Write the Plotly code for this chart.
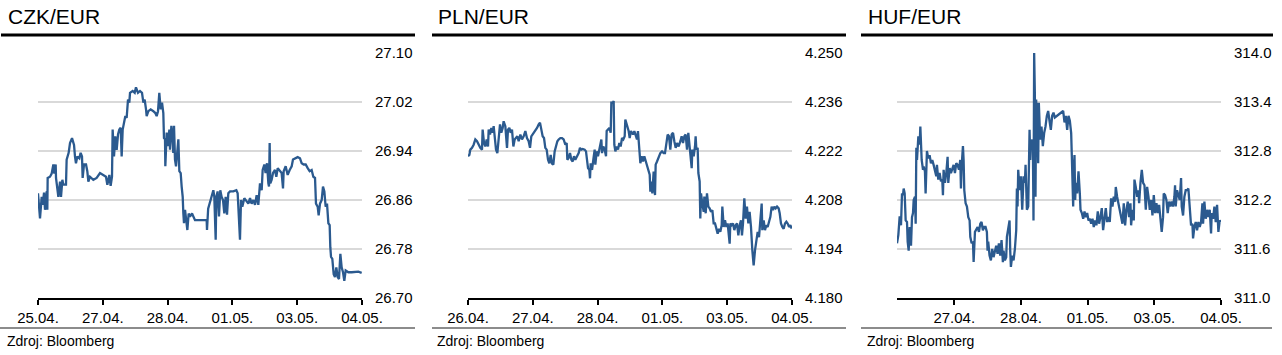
import plotly.graph_objects as go

# ---------------- data ----------------
# x = trading-session position on the date axis (tick labels sit at integers)
czk_x = [0.000, 0.021, 0.031, 0.057, 0.072, 0.093, 0.108, 0.134, 0.144, 0.149, 0.185, 0.211, 0.237, 0.252, 0.273,
         0.278, 0.298, 0.314, 0.340, 0.355, 0.376, 0.391, 0.432, 0.442, 0.473, 0.494, 0.525, 0.556, 0.571, 0.586,
         0.607, 0.638, 0.658, 0.679, 0.689, 0.710, 0.741, 0.761, 0.777, 0.802, 0.854, 0.905, 0.957, 1.008, 1.049,
         1.070, 1.101, 1.121, 1.142, 1.152, 1.173, 1.193, 1.214, 1.235, 1.255, 1.276, 1.291, 1.307, 1.327, 1.348,
         1.368, 1.389, 1.409, 1.420, 1.461, 1.492, 1.512, 1.543, 1.574, 1.605, 1.626, 1.646, 1.667, 1.677, 1.703,
         1.739, 1.780, 1.811, 1.831, 1.852, 1.872, 1.893, 1.914, 1.934, 1.944, 1.960, 1.965, 1.986, 2.006, 2.027,
         2.037, 2.058, 2.078, 2.088, 2.099, 2.114, 2.130, 2.150, 2.166, 2.181, 2.202, 2.217, 2.233, 2.243, 2.253,
         2.269, 2.284, 2.305, 2.325, 2.346, 2.377, 2.423, 2.603, 2.608, 2.626, 2.654, 2.680, 2.706, 2.721, 2.742,
         2.752, 2.772, 2.793, 2.813, 2.834, 2.855, 2.875, 2.896, 2.917, 2.937, 2.963, 3.014, 3.061, 3.081, 3.102,
         3.117, 3.133, 3.153, 3.184, 3.220, 3.246, 3.272, 3.297, 3.323, 3.349, 3.374, 3.400, 3.426, 3.452, 3.467,
         3.493, 3.512, 3.534, 3.555, 3.565, 3.575, 3.585, 3.606, 3.627, 3.657, 3.678, 3.699, 3.735, 3.760, 3.781,
         3.791, 3.822, 3.853, 3.884, 3.915, 3.935, 3.966, 4.007, 4.043, 4.069, 4.100, 4.131, 4.162, 4.192, 4.223,
         4.249, 4.275, 4.290, 4.316, 4.331, 4.352, 4.378, 4.398, 4.419, 4.439, 4.460, 4.481, 4.501, 4.511, 4.522,
         4.542, 4.552, 4.563, 4.583, 4.604, 4.625, 4.645, 4.666, 4.686, 4.707, 4.727, 4.748, 4.789, 4.841, 4.892,
         4.944, 4.995]
czk_y = [26.871, 26.838, 26.830, 26.865, 26.852, 26.872, 26.844, 26.874, 26.844, 26.896, 26.898, 26.903, 26.918,
         26.903, 26.918, 26.896, 26.871, 26.865, 26.890, 26.865, 26.893, 26.885, 26.885, 26.926, 26.937, 26.953,
         26.961, 26.950, 26.931, 26.920, 26.931, 26.928, 26.937, 26.931, 26.896, 26.918, 26.918, 26.907, 26.890,
         26.898, 26.893, 26.896, 26.904, 26.901, 26.898, 26.885, 26.901, 26.883, 26.898, 26.975, 26.931, 26.964,
         26.942, 26.967, 26.975, 26.978, 26.931, 26.975, 26.986, 26.997, 26.994, 27.024, 27.019, 27.035, 27.038,
         27.035, 27.044, 27.035, 27.038, 27.035, 27.019, 27.024, 27.008, 26.997, 27.005, 27.008, 27.005, 27.002,
         26.997, 27.005, 27.035, 27.008, 27.019, 27.002, 26.961, 26.959, 26.915, 26.970, 26.948, 26.975, 26.942,
         26.981, 26.959, 26.937, 26.981, 26.926, 26.915, 26.948, 26.959, 26.907, 26.904, 26.882, 26.865, 26.838,
         26.822, 26.844, 26.833, 26.811, 26.838, 26.833, 26.838, 26.827, 26.827, 26.811, 26.846, 26.857, 26.865,
         26.876, 26.865, 26.795, 26.865, 26.874, 26.833, 26.876, 26.865, 26.860, 26.838, 26.865, 26.836, 26.871,
         26.874, 26.874, 26.876, 26.871, 26.827, 26.795, 26.860, 26.849, 26.863, 26.857, 26.854, 26.863, 26.854,
         26.860, 26.852, 26.868, 26.852, 26.887, 26.876, 26.909, 26.918, 26.904, 26.920, 26.887, 26.882, 26.953,
         26.887, 26.893, 26.904, 26.909, 26.898, 26.912, 26.907, 26.904, 26.879, 26.907, 26.915, 26.901, 26.909,
         26.915, 26.926, 26.928, 26.930, 26.928, 26.920, 26.918, 26.918, 26.912, 26.907, 26.909, 26.898, 26.896,
         26.854, 26.849, 26.835, 26.854, 26.860, 26.882, 26.874, 26.849, 26.854, 26.822, 26.819, 26.783, 26.767,
         26.764, 26.756, 26.739, 26.734, 26.750, 26.734, 26.731, 26.772, 26.750, 26.742, 26.728, 26.745, 26.742,
         26.742, 26.742, 26.743, 26.741]

pln_x = [0.000, 0.021, 0.036, 0.062, 0.087, 0.113, 0.139, 0.165, 0.190, 0.216, 0.226, 0.247, 0.267, 0.288, 0.309,
         0.319, 0.340, 0.360, 0.381, 0.396, 0.412, 0.432, 0.453, 0.473, 0.494, 0.514, 0.535, 0.550, 0.576, 0.602,
         0.617, 0.638, 0.658, 0.679, 0.700, 0.720, 0.741, 0.761, 0.782, 0.808, 0.833, 0.859, 0.885, 0.910, 0.936,
         0.957, 0.977, 0.998, 1.019, 1.039, 1.065, 1.091, 1.111, 1.132, 1.152, 1.173, 1.193, 1.214, 1.235, 1.255,
         1.276, 1.296, 1.317, 1.337, 1.358, 1.379, 1.399, 1.425, 1.451, 1.476, 1.502, 1.523, 1.533, 1.553, 1.574,
         1.595, 1.615, 1.636, 1.656, 1.682, 1.708, 1.728, 1.749, 1.770, 1.800, 1.821, 1.842, 1.852, 1.872, 1.883,
         1.893, 1.914, 1.934, 1.955, 1.965, 1.986, 2.006, 2.027, 2.042, 2.058, 2.068, 2.088, 2.109, 2.130, 2.140,
         2.160, 2.181, 2.202, 2.212, 2.233, 2.248, 2.258, 2.274, 2.294, 2.315, 2.335, 2.356, 2.377, 2.397, 2.418,
         2.428, 2.479, 2.495, 2.515, 2.546, 2.567, 2.588, 2.608, 2.623, 2.634, 2.649, 2.660, 2.680, 2.701, 2.721,
         2.742, 2.762, 2.783, 2.804, 2.814, 2.824, 2.845, 2.865, 2.886, 2.896, 2.917, 2.942, 2.968, 2.994, 3.020,
         3.040, 3.061, 3.081, 3.102, 3.122, 3.143, 3.164, 3.184, 3.205, 3.225, 3.251, 3.277, 3.297, 3.318, 3.339,
         3.359, 3.380, 3.400, 3.421, 3.431, 3.452, 3.462, 3.483, 3.503, 3.513, 3.524, 3.544, 3.555, 3.575, 3.585,
         3.596, 3.616, 3.637, 3.647, 3.668, 3.688, 3.709, 3.729, 3.750, 3.771, 3.791, 3.812, 3.832, 3.853, 3.873,
         3.894, 3.915, 3.925, 3.946, 3.966, 3.987, 4.007, 4.038, 4.048, 4.069, 4.090, 4.110, 4.131, 4.151, 4.172,
         4.192, 4.213, 4.228, 4.244, 4.264, 4.285, 4.305, 4.326, 4.346, 4.367, 4.388, 4.398, 4.408, 4.429, 4.449,
         4.470, 4.491, 4.511, 4.532, 4.542, 4.563, 4.583, 4.604, 4.624, 4.645, 4.666, 4.686, 4.707, 4.727, 4.748,
         4.769, 4.794, 4.810, 4.830, 4.851, 4.871, 4.892, 4.913, 4.933, 4.954, 4.975, 4.995]
pln_y = [4.2205, 4.2209, 4.2224, 4.2229, 4.2238, 4.2253, 4.2248, 4.2238, 4.2229, 4.2224, 4.2281, 4.2243, 4.2233,
         4.2253, 4.2233, 4.2281, 4.2267, 4.2286, 4.2272, 4.2291, 4.2257, 4.2224, 4.2214, 4.2262, 4.2296, 4.2272,
         4.2286, 4.2305, 4.2291, 4.2229, 4.2281, 4.2286, 4.2272, 4.2281, 4.2233, 4.2253, 4.2257, 4.2262, 4.2248,
         4.2267, 4.2253, 4.2262, 4.2277, 4.2257, 4.2248, 4.2229, 4.2262, 4.2267, 4.2272, 4.2277, 4.2286, 4.2296,
         4.2301, 4.2281, 4.2262, 4.2257, 4.2229, 4.2224, 4.2195, 4.2185, 4.2209, 4.2184, 4.2181, 4.2219, 4.2238,
         4.2248, 4.2253, 4.2257, 4.2257, 4.2253, 4.2238, 4.2243, 4.2195, 4.2200, 4.2214, 4.2195, 4.2190, 4.2205,
         4.2195, 4.2205, 4.2214, 4.2229, 4.2224, 4.2226, 4.2224, 4.2219, 4.2195, 4.2171, 4.2166, 4.2142, 4.2185,
         4.2166, 4.2195, 4.2224, 4.2181, 4.2219, 4.2205, 4.2224, 4.2248, 4.2253, 4.2214, 4.2233, 4.2224, 4.2205,
         4.2277, 4.2281, 4.2286, 4.2272, 4.2358, 4.2358, 4.2363, 4.2238, 4.2219, 4.2233, 4.2224, 4.2243, 4.2233,
         4.2257, 4.2253, 4.2262, 4.2310, 4.2277, 4.2257, 4.2277, 4.2267, 4.2277, 4.2267, 4.2253, 4.2277, 4.2253,
         4.2224, 4.2185, 4.2205, 4.2190, 4.2205, 4.2190, 4.2176, 4.2161, 4.2152, 4.2104, 4.2133, 4.2099, 4.2161,
         4.2094, 4.2181, 4.2190, 4.2205, 4.2214, 4.2219, 4.2214, 4.2214, 4.2243, 4.2267, 4.2262, 4.2224, 4.2267,
         4.2272, 4.2248, 4.2229, 4.2243, 4.2233, 4.2248, 4.2262, 4.2243, 4.2262, 4.2267, 4.2224, 4.2272, 4.2233,
         4.2229, 4.2171, 4.2224, 4.2205, 4.2233, 4.2262, 4.2224, 4.2229, 4.2157, 4.2133, 4.2027, 4.2099, 4.2070,
         4.2046, 4.2090, 4.2042, 4.2099, 4.2061, 4.2056, 4.2046, 4.2051, 4.2013, 4.2013, 4.1994, 4.1984, 4.1998,
         4.1989, 4.2008, 4.2061, 4.2003, 4.2022, 4.2003, 4.2013, 4.1955, 4.2013, 4.2008, 4.2013, 4.1994, 4.2008,
         4.2013, 4.1979, 4.2008, 4.2022, 4.1979, 4.2013, 4.2085, 4.2027, 4.2061, 4.2013, 4.2046, 4.2003, 4.1936,
         4.1917, 4.1893, 4.1936, 4.1965, 4.1989, 4.1974, 4.2032, 4.2070, 4.1994, 4.2022, 4.1994, 4.2008, 4.2003,
         4.2018, 4.2032, 4.2061, 4.2051, 4.2061, 4.2056, 4.2061, 4.2056, 4.2042, 4.2013, 4.2003, 4.1998, 4.2013,
         4.2018, 4.2013, 4.2003, 4.2008, 4.1998]

huf_x = [0.141, 0.161, 0.181, 0.201, 0.216, 0.231, 0.241, 0.256, 0.271, 0.291, 0.301, 0.316, 0.331, 0.351, 0.366,
         0.381, 0.391, 0.411, 0.421, 0.431, 0.441, 0.461, 0.481, 0.491, 0.511, 0.531, 0.541, 0.560, 0.570, 0.580,
         0.590, 0.610, 0.630, 0.650, 0.670, 0.690, 0.710, 0.730, 0.740, 0.760, 0.780, 0.800, 0.820, 0.830, 0.840,
         0.860, 0.880, 0.900, 0.910, 0.930, 0.950, 0.970, 0.990, 1.010, 1.030, 1.050, 1.070, 1.090, 1.100, 1.110,
         1.130, 1.140, 1.150, 1.170, 1.190, 1.210, 1.230, 1.240, 1.260, 1.280, 1.290, 1.310, 1.330, 1.350, 1.370,
         1.390, 1.409, 1.429, 1.449, 1.469, 1.489, 1.499, 1.509, 1.529, 1.549, 1.569, 1.589, 1.609, 1.629, 1.649,
         1.669, 1.689, 1.709, 1.729, 1.739, 1.759, 1.779, 1.789, 1.809, 1.829, 1.839, 1.849, 1.869, 1.889, 1.909,
         1.929, 1.939, 1.949, 1.959, 1.979, 1.999, 2.019, 2.039, 2.059, 2.069, 2.089, 2.109, 2.129, 2.139, 2.149,
         2.169, 2.179, 2.188, 2.198, 2.208, 2.218, 2.228, 2.238, 2.248, 2.258, 2.268, 2.278, 2.288, 2.308, 2.328,
         2.348, 2.368, 2.388, 2.408, 2.428, 2.448, 2.468, 2.488, 2.508, 2.573, 2.603, 2.633, 2.653, 2.673, 2.693,
         2.713, 2.733, 2.753, 2.763, 2.773, 2.783, 2.793, 2.803, 2.813, 2.823, 2.843, 2.863, 2.883, 2.893, 2.913,
         2.933, 2.953, 2.973, 2.993, 3.013, 3.033, 3.053, 3.073, 3.092, 3.112, 3.132, 3.152, 3.172, 3.192, 3.212,
         3.232, 3.252, 3.272, 3.292, 3.312, 3.332, 3.352, 3.372, 3.392, 3.412, 3.422, 3.442, 3.462, 3.482, 3.502,
         3.522, 3.542, 3.562, 3.582, 3.602, 3.622, 3.642, 3.652, 3.672, 3.692, 3.702, 3.722, 3.742, 3.762, 3.772,
         3.792, 3.812, 3.832, 3.852, 3.872, 3.892, 3.912, 3.932, 3.952, 3.972, 3.992, 4.012, 4.032, 4.052, 4.072,
         4.092, 4.111, 4.131, 4.141, 4.161, 4.181, 4.201, 4.221, 4.241, 4.261, 4.281, 4.301, 4.311, 4.321, 4.341,
         4.361, 4.381, 4.401, 4.411, 4.431, 4.451, 4.471, 4.491, 4.511, 4.531, 4.551, 4.571, 4.581, 4.601, 4.621,
         4.641, 4.661, 4.681, 4.701, 4.721, 4.731, 4.751, 4.771, 4.791, 4.811, 4.831, 4.851, 4.861, 4.881, 4.901,
         4.921, 4.941, 4.961, 4.981, 5.000]
huf_y = [311.67, 311.77, 312.00, 311.89, 312.28, 312.26, 312.34, 312.28, 311.95, 311.93, 311.69, 311.58, 311.87,
         311.64, 311.99, 312.04, 312.20, 312.24, 311.91, 312.84, 312.69, 312.98, 312.88, 313.10, 312.69, 312.57,
         312.61, 312.55, 312.28, 312.49, 312.80, 312.71, 312.75, 312.65, 312.69, 312.63, 312.57, 312.49, 312.63,
         312.45, 312.53, 312.43, 312.45, 312.26, 312.57, 312.41, 312.53, 312.73, 312.41, 312.59, 312.53, 312.57,
         312.63, 312.53, 312.65, 312.63, 312.57, 312.69, 312.34, 312.61, 312.86, 312.69, 312.32, 312.16, 312.12,
         311.99, 311.95, 311.75, 311.67, 311.69, 311.44, 311.81, 311.85, 311.87, 311.81, 311.91, 311.93, 311.83,
         311.87, 311.87, 311.81, 311.58, 311.69, 311.52, 311.46, 311.60, 311.50, 311.58, 311.64, 311.54, 311.67,
         311.52, 311.71, 311.44, 311.58, 311.46, 311.50, 311.75, 311.83, 311.95, 311.58, 311.38, 311.52, 311.46,
         311.60, 311.83, 312.34, 312.12, 312.57, 312.32, 312.49, 312.08, 312.49, 312.41, 312.63, 312.08, 312.12,
         313.06, 312.69, 312.90, 312.94, 312.86, 311.95, 314.00, 313.52, 312.24, 313.43, 312.94, 313.39, 312.65,
         313.39, 313.23, 312.94, 313.10, 312.86, 313.02, 313.10, 313.23, 313.29, 313.17, 313.06, 313.23, 313.27,
         313.21, 313.25, 313.27, 313.29, 313.15, 313.23, 313.06, 313.23, 313.17, 313.02, 312.73, 312.24, 312.12,
         312.57, 312.75, 312.20, 312.41, 312.28, 312.55, 312.28, 312.08, 312.04, 311.97, 312.06, 311.99, 312.04,
         311.95, 311.97, 311.91, 311.97, 311.87, 311.95, 311.89, 312.06, 311.91, 311.99, 312.10, 311.83, 311.97,
         312.10, 311.93, 311.99, 311.93, 312.22, 312.12, 312.24, 312.18, 312.36, 312.24, 312.16, 312.08, 311.99,
         311.91, 312.16, 311.89, 312.08, 312.18, 311.99, 312.16, 311.89, 312.08, 311.95, 312.45, 312.36, 312.24,
         312.32, 312.16, 312.41, 312.57, 312.41, 312.38, 312.08, 312.36, 312.24, 312.08, 312.20, 312.01, 312.26,
         312.04, 312.16, 312.04, 312.14, 311.95, 311.81, 311.99, 312.28, 312.26, 312.20, 312.04, 312.18, 312.12,
         312.18, 312.12, 312.24, 312.38, 312.12, 312.32, 312.24, 312.20, 312.47, 312.12, 312.01, 312.24, 312.32,
         312.32, 312.34, 312.16, 311.89, 311.91, 311.73, 311.87, 311.93, 311.83, 311.93, 311.87, 311.93, 312.16,
         311.91, 312.18, 311.97, 312.08, 311.99, 312.08, 311.79, 312.04, 311.97, 312.12, 311.93, 312.14, 311.81,
         311.95, 311.93]

titles = ["CZK/EUR", "PLN/EUR", "HUF/EUR"]
source_text = "Zdroj: Bloomberg"

czk_xticks = ["25.04.", "27.04.", "28.04.", "01.05.", "03.05.", "04.05."]
pln_xticks = ["26.04.", "27.04.", "28.04.", "01.05.", "03.05.", "04.05."]
huf_xticks = ["27.04.", "28.04.", "01.05.", "03.05.", "04.05."]

czk_yticks = [26.70, 26.78, 26.86, 26.94, 27.02, 27.10]
pln_yticks = [4.180, 4.194, 4.208, 4.222, 4.236, 4.250]
huf_yticks = [311.0, 311.6, 312.2, 312.8, 313.4, 314.0]

# ---------------- layout ----------------
W, H = 1282, 355
FONT = "Liberation Sans, Arial, Helvetica, sans-serif"
LINE_COLOR = "#2b5a8f"
TEXT = "#000000"

def px_x(p):
    return p / W

def px_y(p):
    return 1 - p / H

panels = [
    dict(x=czk_x, y=czk_y, xr=[0, 5], xtv=[0, 1, 2, 3, 4, 5], xtt=czk_xticks,
         ytv=czk_yticks, yfmt="{:.2f}", plot=(38, 362), frame=(1, 415), grey=(0, 415), tx=6, sx=5),
    dict(x=pln_x, y=pln_y, xr=[0, 5], xtv=[0, 1, 2, 3, 4, 5], xtt=pln_xticks,
         ytv=pln_yticks, yfmt="{:.3f}", plot=(468, 792), frame=(432, 846), grey=(432, 846), tx=436, sx=435),
    dict(x=huf_x, y=huf_y, xr=[0.141, 5], xtv=[1, 2, 3, 4, 5], xtt=huf_xticks,
         ytv=huf_yticks, yfmt="{:.1f}", plot=(897, 1221), frame=(861, 1273), grey=(861, 1272), tx=866, sx=865),
]

PLOT_TOP, PLOT_BOTTOM = 53, 298

fig = go.Figure()
layout = dict(
    template="none",
    width=W, height=H, margin=dict(l=0, r=0, t=0, b=0, pad=0),
    paper_bgcolor="white", plot_bgcolor="white",
    showlegend=False, font=dict(family=FONT, color=TEXT),
    shapes=[], annotations=[],
)

for i, (p, title) in enumerate(zip(panels, titles), start=1):
    xa = "x" if i == 1 else f"x{i}"
    ya = "y" if i == 1 else f"y{i}"
    fig.add_trace(go.Scatter(x=p["x"], y=p["y"], mode="lines", xaxis=xa, yaxis=ya,
                             line=dict(color=LINE_COLOR, width=2.3), hoverinfo="skip"))
    xkey = "xaxis" if i == 1 else f"xaxis{i}"
    ykey = "yaxis" if i == 1 else f"yaxis{i}"
    layout[xkey] = dict(
        domain=[px_x(p["plot"][0]), px_x(p["plot"][1])], anchor=ya, automargin=False,
        range=p["xr"], tickmode="array", tickvals=p["xtv"], ticktext=p["xtt"],
        showgrid=False, zeroline=False, showline=True, linecolor="black", linewidth=2,
        ticks="outside", ticklen=5, tickwidth=2, tickcolor="black",
        tickfont=dict(size=15, color=TEXT, family=FONT), fixedrange=True,
    )
    layout[ykey] = dict(
        domain=[px_y(PLOT_BOTTOM), px_y(PLOT_TOP)], anchor=xa, side="right", automargin=False,
        range=[p["ytv"][0], p["ytv"][-1]], tickmode="array", tickvals=p["ytv"],
        ticktext=[p["yfmt"].format(v) for v in p["ytv"]],
        showgrid=True, gridcolor="#d9d9d9", gridwidth=1.5, zeroline=False, showline=False,
        ticks="", ticklabelstandoff=12,
        tickfont=dict(size=15, color=TEXT, family=FONT), fixedrange=True,
    )
    # heavy rule under the title
    layout["shapes"].append(dict(type="line", xref="paper", yref="paper",
                                 x0=px_x(p["frame"][0]), x1=px_x(p["frame"][1]),
                                 y0=px_y(35), y1=px_y(35), line=dict(color="black", width=3)))
    # grey rule above the source note
    layout["shapes"].append(dict(type="line", xref="paper", yref="paper",
                                 x0=px_x(p["grey"][0]), x1=px_x(p["grey"][1]),
                                 y0=px_y(328), y1=px_y(328), line=dict(color="#8c8c8c", width=2)))
    layout["annotations"].append(dict(text=title, xref="paper", yref="paper",
                                      x=px_x(p["tx"]), y=px_y(16), xanchor="left", yanchor="middle",
                                      showarrow=False, font=dict(size=21, color="black", family=FONT)))
    layout["annotations"].append(dict(text=source_text, xref="paper", yref="paper",
                                      x=px_x(p["sx"]), y=px_y(341), xanchor="left", yanchor="middle",
                                      showarrow=False, font=dict(size=14, color=TEXT, family=FONT)))

fig.update_layout(**layout)
fig.write_html("out.html", config=dict(displayModeBar=False))
